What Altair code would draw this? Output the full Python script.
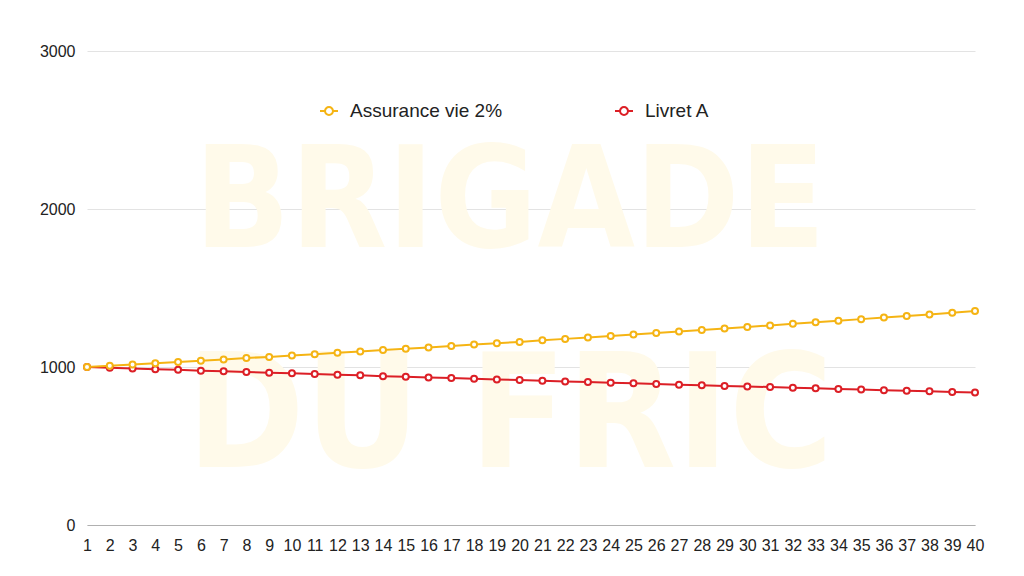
import altair as alt
import pandas as pd

years = list(range(1, 41))
assurance_vie = [1000, 1008, 1016, 1024, 1032, 1040, 1048, 1057, 1064, 1073,
                 1081, 1090, 1098, 1107, 1115, 1124, 1133, 1142, 1151, 1159,
                 1169, 1178, 1187, 1196, 1205, 1215, 1224, 1234, 1243, 1253,
                 1263, 1273, 1283, 1293, 1303, 1313, 1323, 1333, 1344, 1354]
livret_a = [1000, 995, 991, 986, 982, 977, 973, 968, 964, 960,
            955, 951, 947, 942, 938, 934, 930, 925, 921, 917,
            913, 909, 905, 901, 897, 893, 888, 884, 880, 877,
            873, 869, 865, 861, 857, 853, 849, 846, 842, 838]
series_names = ["Assurance vie 2%", "Livret A"]
series_colors = ["#F5B414", "#DC1F26"]
y_ticks = [0, 1000, 2000, 3000]
watermark_lines = ["BRIGADE", "DU FRIC"]

rows = []
for y, v in zip(years, livret_a):
    rows.append({"annee": y, "valeur": v, "serie": series_names[1]})
for y, v in zip(years, assurance_vie):
    rows.append({"annee": y, "valeur": v, "serie": series_names[0]})
df = pd.DataFrame(rows)

FONT = "Helvetica, Arial, Liberation Sans, sans-serif"

x_enc = alt.X("annee:Q",
              scale=alt.Scale(domain=[1, 40], nice=False, zero=False),
              axis=alt.Axis(values=years, title=None, grid=False, ticks=False,
                            labelFontSize=16, labelPadding=12, labelColor="#222",
                            domainColor="#b0b0b0", domainWidth=1.2, format="d",
                            labelFlush=False, labelOverlap=False))
y_enc = alt.Y("valeur:Q",
              scale=alt.Scale(domain=[0, 3000], nice=False),
              axis=alt.Axis(values=y_ticks, title=None, ticks=False, domain=False,
                            format="d",
                            labelFontSize=16, labelPadding=12, labelColor="#222",
                            gridColor="#e3e3e3", gridWidth=1))

symbol_path = ("M-1,0H-0.44M0.44,0H1"
               "M-0.44,0A0.44,0.44,0,1,1,0.44,0A0.44,0.44,0,1,1,-0.44,0Z")

lines = alt.Chart(df).mark_line(
    strokeWidth=2,
    point=alt.OverlayMarkDef(filled=False, fill="white", size=36, strokeWidth=2),
).encode(
    x=x_enc,
    y=y_enc,
    color=alt.Color("serie:N",
                    scale=alt.Scale(domain=series_names, range=series_colors),
                    sort=series_names,
                    legend=alt.Legend(title=None, orient="none", direction="horizontal",
                                      legendX=232, legendY=50,
                                      symbolType=symbol_path, symbolSize=324,
                                      symbolStrokeWidth=2, symbolFillColor="white",
                                      labelFontSize=19, labelColor="#222",
                                      labelOffset=11, columnPadding=108,
                                      padding=0)),
    detail="serie:N",
)

wm_df = pd.DataFrame({"txt": watermark_lines, "py": [196, 416], "fs": [140, 158]})
watermark = alt.Chart(wm_df).mark_text(
    font="DejaVu Sans Condensed", fontWeight="bold",
    color="#FFFAEA", align="center", baseline="alphabetic",
).encode(
    text="txt:N",
    x=alt.value(423),
    y=alt.Y("py:Q", scale=None, axis=None),
    size=alt.Size("fs:Q", scale=None, legend=None),
)

chart = alt.layer(watermark, lines).properties(
    width=888, height=474,
    autosize=alt.AutoSizeParams(type="none"),
    padding={"left": 87, "top": 51, "right": 49, "bottom": 51},
).configure(font=FONT).configure_view(stroke=None).configure_axis(labelFont=FONT).configure_legend(labelFont=FONT)

chart.save("out.html", embed_options={"renderer": "svg", "actions": False})
